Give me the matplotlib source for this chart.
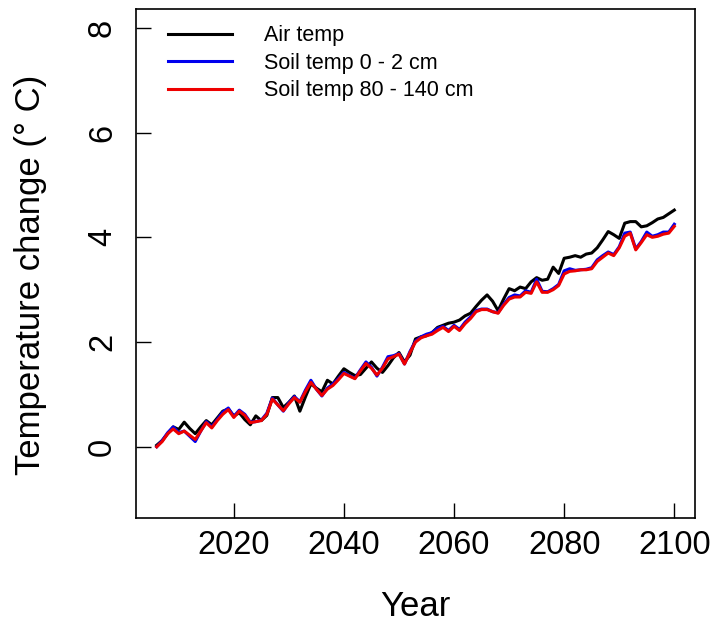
import numpy as np
import matplotlib
matplotlib.use("Agg")
import matplotlib.pyplot as plt

plt.rcParams["font.family"] = ["Liberation Sans", "DejaVu Sans"]

# Data (annual values 2006-2100)
years = np.arange(2006, 2101)

air_temp = [0.03, 0.12, 0.25, 0.38, 0.33, 0.47, 0.35, 0.25, 0.38, 0.50,
            0.42, 0.55, 0.68, 0.72, 0.59, 0.65, 0.52, 0.42, 0.59, 0.50,
            0.60, 0.94, 0.94, 0.75, 0.85, 0.97, 0.68, 0.95, 1.20, 1.12,
            1.05, 1.27, 1.20, 1.35, 1.49, 1.42, 1.36, 1.38, 1.50, 1.62,
            1.50, 1.42, 1.55, 1.70, 1.80, 1.62, 1.75, 2.06, 2.10, 2.12,
            2.18, 2.28, 2.32, 2.36, 2.38, 2.42, 2.50, 2.55, 2.68, 2.80,
            2.90, 2.78, 2.60, 2.82, 3.02, 2.98, 3.05, 3.02, 3.15, 3.23,
            3.18, 3.20, 3.43, 3.31, 3.60, 3.62, 3.65, 3.62, 3.68, 3.70,
            3.80, 3.95, 4.11, 4.05, 3.98, 4.27, 4.30, 4.30, 4.20, 4.22,
            4.28, 4.35, 4.38, 4.45, 4.52]

soil_0_2 = [0.00, 0.12, 0.27, 0.38, 0.27, 0.30, 0.20, 0.10, 0.30, 0.48,
            0.38, 0.52, 0.66, 0.74, 0.58, 0.70, 0.62, 0.47, 0.48, 0.51,
            0.64, 0.93, 0.80, 0.68, 0.84, 0.96, 0.86, 1.08, 1.27, 1.10,
            0.97, 1.12, 1.20, 1.30, 1.42, 1.36, 1.31, 1.47, 1.62, 1.52,
            1.35, 1.52, 1.72, 1.74, 1.78, 1.58, 1.82, 2.02, 2.10, 2.15,
            2.18, 2.26, 2.30, 2.22, 2.32, 2.24, 2.38, 2.48, 2.60, 2.63,
            2.63, 2.58, 2.56, 2.72, 2.85, 2.90, 2.88, 2.98, 2.95, 3.20,
            2.97, 2.96, 3.02, 3.10, 3.36, 3.40, 3.37, 3.38, 3.39, 3.42,
            3.57, 3.65, 3.72, 3.67, 3.82, 4.08, 4.10, 3.78, 3.92, 4.10,
            4.02, 4.05, 4.10, 4.10, 4.25]

soil_80_140 = [0.00, 0.10, 0.25, 0.34, 0.25, 0.30, 0.22, 0.14, 0.30, 0.46,
               0.36, 0.50, 0.62, 0.71, 0.56, 0.68, 0.60, 0.46, 0.48, 0.50,
               0.62, 0.91, 0.80, 0.69, 0.82, 0.94, 0.85, 1.05, 1.23, 1.10,
               0.98, 1.10, 1.17, 1.28, 1.40, 1.35, 1.30, 1.45, 1.59, 1.50,
               1.37, 1.50, 1.68, 1.72, 1.77, 1.58, 1.80, 2.00, 2.08, 2.12,
               2.15, 2.22, 2.28, 2.20, 2.30, 2.22, 2.35, 2.45, 2.58, 2.62,
               2.62, 2.58, 2.55, 2.70, 2.82, 2.86, 2.86, 2.95, 2.93, 3.15,
               2.95, 2.95, 3.00, 3.08, 3.30, 3.35, 3.36, 3.38, 3.38, 3.40,
               3.54, 3.62, 3.70, 3.65, 3.80, 4.02, 4.08, 3.76, 3.90, 4.05,
               4.00, 4.02, 4.06, 4.08, 4.21]

labels = ["Air temp", "Soil temp 0 - 2 cm", "Soil temp 80 - 140 cm"]

fig = plt.figure(figsize=(7.17, 6.25), dpi=100)
ax = fig.add_axes([136/717, 1 - 518/625, 559/717, 509/625])

ax.plot(years, air_temp, color="black", lw=2.2, label=labels[0])
ax.plot(years, soil_0_2, color="#0000ee", lw=2.2, label=labels[1])
ax.plot(years, soil_80_140, color="#ee0000", lw=2.2, label=labels[2])

# R style 4% padding
ax.set_xlim(2006 - 0.04 * 94, 2100 + 0.04 * 94)
ax.set_ylim(-1 - 0.36, 8 + 0.36)
ax.set_xticks([2020, 2040, 2060, 2080, 2100])
ax.set_yticks([0, 2, 4, 6, 8])

ax.tick_params(direction="in", length=11, width=1, labelsize=23.5, colors="black")
ax.tick_params(axis="x", pad=9)
ax.tick_params(axis="y", pad=13)
for lab in ax.get_yticklabels():
    lab.set_rotation(90)
    lab.set_va("center")

for sp in ax.spines.values():
    sp.set_linewidth(1.2)

ax.set_xlabel("Year", fontsize=25)
ax.set_ylabel("Temperature change (° C)", fontsize=25)
ax.xaxis.set_label_coords(0.5, -0.142)
ax.yaxis.set_label_coords(-0.16, 0.478)

ax.legend(loc="upper left", bbox_to_anchor=(0.057, 0.968), frameon=False,
          fontsize=15.5, handlelength=3.0, handletextpad=1.45, labelspacing=0.3,
          borderpad=0, borderaxespad=0)

plt.savefig("out.png", dpi=100)
